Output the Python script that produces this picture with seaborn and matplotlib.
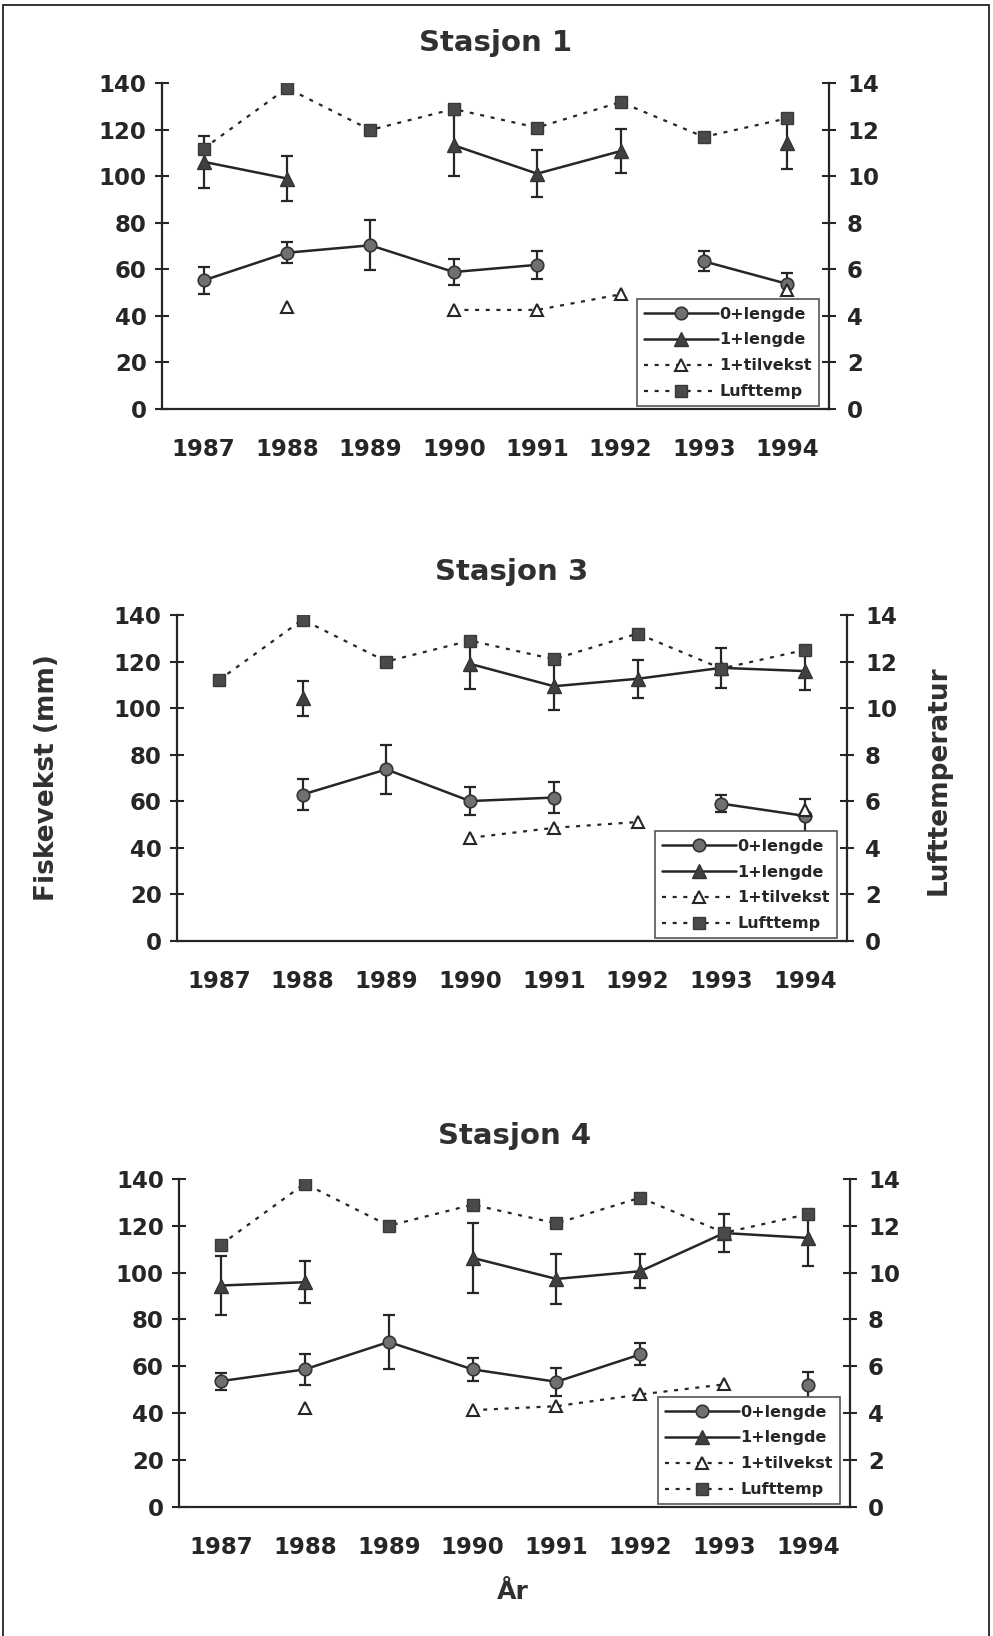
import numpy as np
import pandas as pd
import matplotlib
matplotlib.use('Agg')
import matplotlib.pyplot as plt
from matplotlib.lines import Line2D
import seaborn as sns

nan = np.nan

# categories and shared air temperature
years = ['1987', '1988', '1989', '1990', '1991', '1992', '1993', '1994']
lufttemp = [11.2, 13.8, 12.0, 12.9, 12.1, 13.2, 11.7, 12.5]

# Stasjon 1
s1_len0 = [55.3, 67.2, 70.4, 58.9, 62.0, nan, 63.5, 53.8]
s1_err0 = [5.7, 4.6, 10.7, 5.4, 6.0, nan, 4.3, 4.6]
s1_len1 = [106.3, 99.1, nan, 113.4, 101.2, 110.9, nan, 114.4]
s1_err1 = [11.3, 9.7, nan, 13.2, 10.0, 9.6, nan, 11.0]
s1_tilv = [nan, 43.8, nan, 42.6, 42.6, 49.3, nan, 51.0]

# Stasjon 3
s3_len0 = [nan, 62.9, 73.7, 60.1, 61.6, nan, 59.0, 53.7]
s3_err0 = [nan, 6.8, 10.4, 6.2, 6.6, nan, 3.6, 7.1]
s3_len1 = [nan, 104.3, nan, 119.0, 109.4, 112.6, 117.3, 115.9]
s3_err1 = [nan, 7.5, nan, 11.0, 10.0, 8.2, 8.7, 8.3]
s3_tilv = [nan, nan, nan, 44.3, 48.6, 51.1, nan, 56.1]

# Stasjon 4
s4_len0 = [53.7, 58.7, 70.4, 58.7, 53.4, 65.1, nan, 52.0]
s4_err0 = [3.6, 6.5, 11.7, 5.0, 5.9, 4.7, nan, 5.5]
s4_len1 = [94.5, 95.9, nan, 106.3, 97.3, 100.6, 116.9, 114.8]
s4_err1 = [12.4, 9.0, nan, 14.8, 10.7, 7.3, 8.2, 12.0]
s4_tilv = [nan, 42.3, nan, 41.3, 43.0, 48.0, 52.3, nan]

stations = [
    ('Stasjon 1', s1_len0, s1_err0, s1_len1, s1_err1, s1_tilv),
    ('Stasjon 3', s3_len0, s3_err0, s3_len1, s3_err1, s3_tilv),
    ('Stasjon 4', s4_len0, s4_err0, s4_len1, s4_err1, s4_tilv),
]

# axes boxes in figure fractions and title pads
boxes = [[0.1631, 0.750, 0.6717, 0.1990],
         [0.1782, 0.4248, 0.6747, 0.1993],
         [0.1803, 0.0789, 0.6757, 0.2005]]
title_pads = [23, 25, 25]

dark = '#262626'
dotted = (0, (1.8, 3.0))

sns.set_style('white')
plt.rcParams['font.family'] = ['DejaVu Sans']
plt.rcParams['font.weight'] = 'bold'
plt.rcParams['text.color'] = dark


def segments(values):
    '''Split a series with gaps into connected pieces'''
    rows, seg, prev = [], 0, False
    for i, v in enumerate(values):
        if np.isnan(v):
            if prev:
                seg += 1
            prev = False
            continue
        rows.append((i, v, seg))
        prev = True
    return pd.DataFrame(rows, columns=['x', 'y', 'seg'])


def draw(ax, values, **kws):
    df = segments(values)
    sns.lineplot(data=df, x='x', y='y', units='seg', estimator=None, sort=False,
                 ax=ax, legend=False, **kws)


style_len0 = dict(color=dark, linewidth=1.8, linestyle='-', marker='o', markersize=9,
                  markerfacecolor='#707070', markeredgecolor='#333333', markeredgewidth=1.2)
style_len1 = dict(color=dark, linewidth=1.8, linestyle='-', marker='^', markersize=10,
                  markerfacecolor='#404040', markeredgecolor='#333333', markeredgewidth=1.0)
style_tilv = dict(color=dark, linewidth=1.6, linestyle=dotted, marker='^', markersize=9,
                  markerfacecolor='white', markeredgecolor=dark, markeredgewidth=1.5)
style_temp = dict(color=dark, linewidth=1.6, linestyle=dotted, marker='s', markersize=8,
                  markerfacecolor='#4a4a4a', markeredgecolor='#383838', markeredgewidth=1.0)

fig = plt.figure(figsize=(9.93, 16.36), dpi=100)

x = np.arange(len(years))
for (title, len0, err0, len1, err1, tilv), box, tpad in zip(stations, boxes, title_pads):
    ax = fig.add_axes(box)
    ax2 = ax.twinx()

    ax.errorbar(x, len0, yerr=err0, fmt='none', ecolor=dark, elinewidth=1.6,
                capsize=4, capthick=1.6, zorder=2)
    ax.errorbar(x, len1, yerr=err1, fmt='none', ecolor=dark, elinewidth=1.6,
                capsize=4, capthick=1.6, zorder=2)
    draw(ax, len0, **style_len0)
    draw(ax, len1, **style_len1)
    draw(ax, tilv, **style_tilv)
    draw(ax2, lufttemp, **style_temp)

    ax.set_xlim(-0.5, 7.5)
    ax.set_ylim(0, 140)
    ax2.set_ylim(0, 14)
    ax.set_xlabel('')
    ax.set_ylabel('')
    ax2.set_ylabel('')

    ax.set_xticks(np.arange(-0.5, 8, 1))
    ax.set_xticklabels([])
    ax.set_xticks(x, minor=True)
    ax.set_xticklabels(years, minor=True)
    ax.tick_params(axis='x', which='major', direction='inout', length=10, width=1.5, color=dark)
    ax.tick_params(axis='x', which='minor', length=0, pad=21, labelsize=16.5, labelcolor=dark)
    ax.set_yticks(np.arange(0, 141, 20))
    ax.tick_params(axis='y', direction='inout', length=10, width=1.5, color=dark,
                   pad=6, labelsize=16.5, labelcolor=dark)
    ax2.set_yticks(np.arange(0, 15, 2))
    ax2.tick_params(axis='y', direction='inout', length=10, width=1.5, color=dark,
                    pad=8, labelsize=16.5, labelcolor=dark)

    for name, sp in ax.spines.items():
        sp.set_visible(name in ('left', 'bottom'))
        sp.set_color(dark)
        sp.set_linewidth(1.6)
    for name, sp in ax2.spines.items():
        sp.set_visible(name == 'right')
        sp.set_color(dark)
        sp.set_linewidth(1.6)

    ax.set_title(title, fontsize=21, fontweight='bold', pad=tpad, color='#303030')

    handles = [Line2D([], [], **style_len0), Line2D([], [], **style_len1),
               Line2D([], [], **style_tilv), Line2D([], [], **style_temp)]
    leg = ax2.legend(handles, ['0+lengde', '1+lengde', '1+tilvekst', 'Lufttemp'],
                     loc='lower right', bbox_to_anchor=(0.985, 0.008), fontsize=11.5,
                     handlelength=4.6, handletextpad=0.1, labelspacing=0.68,
                     borderpad=0.45, borderaxespad=0, fancybox=False, framealpha=1)
    leg.get_frame().set_edgecolor('#555555')
    leg.get_frame().set_linewidth(1.2)

fig.text(0.047, 0.525, 'Fiskevekst (mm)', rotation=90, ha='center', va='center',
         fontsize=19, fontweight='bold', color='#303030')
fig.text(0.945, 0.523, 'Lufttemperatur', rotation=90, ha='center', va='center',
         fontsize=19, fontweight='bold', color='#303030')
fig.text(0.516, 0.027, 'År', ha='center', va='center', fontsize=18,
         fontweight='bold', color='#303030')

# page frame of the scanned sheet
for xs, ys in [([0.003, 0.996], [0.997, 0.997]), ([0.003, 0.003], [0.0, 0.997]),
               ([0.996, 0.996], [0.0, 0.997])]:
    fig.add_artist(Line2D(xs, ys, color='#333333', linewidth=1.4))

fig.savefig('out.png', dpi=100)
